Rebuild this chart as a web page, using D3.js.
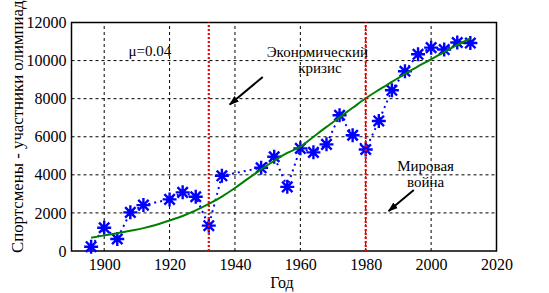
<!DOCTYPE html>
<html>
<head>
<meta charset="utf-8">
<script src="https://cdn.jsdelivr.net/npm/d3@7"></script>
<style>
    body { margin: 0; background: #fff; }
    svg text { font-family: "Liberation Serif", "DejaVu Serif", serif !important; }
</style>
</head>
<body>
<div id="container"></div>
<script>
// Olympic years and number of athletes (blue stars)
const years = [1896, 1900, 1904, 1908, 1912, 1920, 1924, 1928, 1932, 1936, 1948, 1952, 1956,
    1960, 1964, 1968, 1972, 1976, 1980, 1984, 1988, 1992, 1996, 2000, 2004, 2008, 2012];
const athletes = [225, 1222, 630, 2030, 2410, 2710, 3080, 2850, 1330, 3950, 4370, 4950, 3370,
    5390, 5180, 5600, 7130, 6080, 5330, 6830, 8440, 9440, 10330, 10680, 10580, 10950, 10920];

// fitted curve (green)
const fitYears = [1896, 1900, 1904, 1908, 1912, 1916, 1920, 1924, 1928, 1932, 1936, 1940, 1944,
    1948, 1952, 1956, 1960, 1964, 1968, 1972, 1976, 1980, 1984, 1988, 1992, 1996, 2000, 2004, 2008, 2012];
const fitValues = [700, 820, 930, 1060, 1200, 1380, 1600, 1840, 2130, 2470, 2860, 3310, 3800,
    4280, 4740, 5150, 5480, 6000, 6520, 7020, 7520, 8020, 8460, 8880, 9300, 9700, 10060, 10450, 10820, 11160];

// crisis / war markers
const eventYears = [1932, 1980];

const xTicks = [1900, 1920, 1940, 1960, 1980, 2000, 2020];
const yTicks = [0, 2000, 4000, 6000, 8000, 10000, 12000];

const serif = "'Liberation Serif', 'DejaVu Serif', serif";

const main = () => {
    const svg = d3.select("#container")
        .append('svg')
        .attr('width', 549)
        .attr('height', 293)
        .attr('font-family', serif);

    const xScale = d3.scaleLinear().domain([1890, 2020]).range([71.5, 496.5]);
    const yScale = d3.scaleLinear().domain([0, 12000]).range([251, 22.5]);

    // grid
    svg.append("g").selectAll("line")
        .data(xTicks.filter((d) => d > 1890 && d < 2020))
        .enter().append("line")
        .attr("x1", (d) => xScale(d)).attr("x2", (d) => xScale(d))
        .attr("y1", yScale(0)).attr("y2", yScale(12000))
        .attr("stroke", "#000").attr("stroke-width", 1)
        .attr("stroke-dasharray", "3,3");
    svg.append("g").selectAll("line")
        .data(yTicks.filter((d) => d > 0 && d < 12000))
        .enter().append("line")
        .attr("x1", xScale(1890)).attr("x2", xScale(2020))
        .attr("y1", (d) => yScale(d)).attr("y2", (d) => yScale(d))
        .attr("stroke", "#000").attr("stroke-width", 1)
        .attr("stroke-dasharray", "3,3");

    // axes
    const xAxis = d3.axisBottom(xScale).tickValues(xTicks).tickSize(0).tickPadding(8).tickFormat(d3.format("d"));
    const yAxis = d3.axisLeft(yScale).tickValues(yTicks).tickSize(0).tickPadding(5).tickFormat(d3.format("d"));
    const xAxisGroup = svg.append("g").attr("transform", "translate(0," + yScale(0) + ")").call(xAxis);
    const yAxisGroup = svg.append("g").attr("transform", "translate(" + xScale(1890) + ",0)").call(yAxis);
    [xAxisGroup, yAxisGroup].forEach((g) => {
        g.attr("font-family", serif).attr("font-size", 16);
        g.select(".domain").remove();
        g.selectAll("text").attr("fill", "#000");
    });

    // box
    svg.append("rect")
        .attr("x", xScale(1890)).attr("y", yScale(12000))
        .attr("width", xScale(2020) - xScale(1890))
        .attr("height", yScale(0) - yScale(12000))
        .attr("fill", "none").attr("stroke", "#000").attr("stroke-width", 1.5);

    // athletes: dotted blue line
    const pts = years.map((y, i) => ({ year: y, v: athletes[i] }));
    const lineMaker = d3.line()
        .x((d) => xScale(d.year))
        .y((d) => yScale(d.v));
    svg.append("path")
        .datum(pts)
        .attr("d", lineMaker)
        .attr("fill", "none")
        .attr("stroke", "#0000ff")
        .attr("stroke-width", 2)
        .attr("stroke-dasharray", "2,4");

    // star markers
    const r = 7, rd = 5.2;
    const starPath = "M" + (-r) + ",0L" + r + ",0M0," + (-r) + "L0," + r +
        "M" + (-rd) + "," + (-rd) + "L" + rd + "," + rd +
        "M" + (-rd) + "," + rd + "L" + rd + "," + (-rd);
    svg.append("g").selectAll("path")
        .data(pts)
        .enter().append("path")
        .attr("transform", (d) => "translate(" + xScale(d.year) + "," + yScale(d.v) + ")")
        .attr("d", starPath)
        .attr("fill", "none")
        .attr("stroke", "#0000ff")
        .attr("stroke-width", 2.4);

    // fitted curve
    const fit = fitYears.map((y, i) => ({ year: y, v: fitValues[i] }));
    svg.append("path")
        .datum(fit)
        .attr("d", lineMaker.curve(d3.curveMonotoneX))
        .attr("fill", "none")
        .attr("stroke", "#008000")
        .attr("stroke-width", 2);

    // red event lines
    svg.append("g").selectAll("line")
        .data(eventYears)
        .enter().append("line")
        .attr("x1", (d) => xScale(d)).attr("x2", (d) => xScale(d))
        .attr("y1", yScale(0)).attr("y2", yScale(12000))
        .attr("stroke", "#ff0000").attr("stroke-width", 2.2)
        .attr("stroke-dasharray", "2,2");

    // annotations
    const note = (x, y, txt, anchor) => svg.append("text")
        .attr("x", xScale(x)).attr("y", yScale(y))
        .attr("text-anchor", anchor || "middle")
        .attr("font-size", 15)
        .attr("fill", "#000")
        .text(txt);
    note(1907.4, 10250, "\u03bc=0.04", "start");
    note(1965.2, 10170, "Экономический");
    note(1966, 9370, "кризис");
    note(1998.3, 4200, "Мировая");
    note(1998.3, 3350, "война");

    svg.append("defs").append("marker")
        .attr("id", "head")
        .attr("viewBox", "0 0 10 10")
        .attr("refX", 9).attr("refY", 5)
        .attr("markerWidth", 5).attr("markerHeight", 5)
        .attr("orient", "auto")
        .append("path").attr("d", "M0,1.5L10,5L0,8.5Z").attr("fill", "#000");

    const arrow = (x1, y1, x2, y2) => svg.append("line")
        .attr("x1", xScale(x1)).attr("y1", yScale(y1))
        .attr("x2", xScale(x2)).attr("y2", yScale(y2))
        .attr("stroke", "#000").attr("stroke-width", 2)
        .attr("marker-end", "url(#head)");
    arrow(1948.5, 9140, 1938.4, 7690);
    arrow(1994.7, 3200, 1987, 2100);

    // axis titles
    svg.append("text")
        .attr("x", (xScale(1890) + xScale(2020)) / 2 - 2)
        .attr("y", 288)
        .attr("text-anchor", "middle")
        .attr("font-size", 16)
        .text("Год");
    svg.append("text")
        .attr("transform", "translate(22.5,253) rotate(-90)")
        .attr("text-anchor", "start")
        .attr("font-size", 16.8)
        .text("Спортсмены - участники олимпиад");
};

main();
</script>
</body>
</html>
